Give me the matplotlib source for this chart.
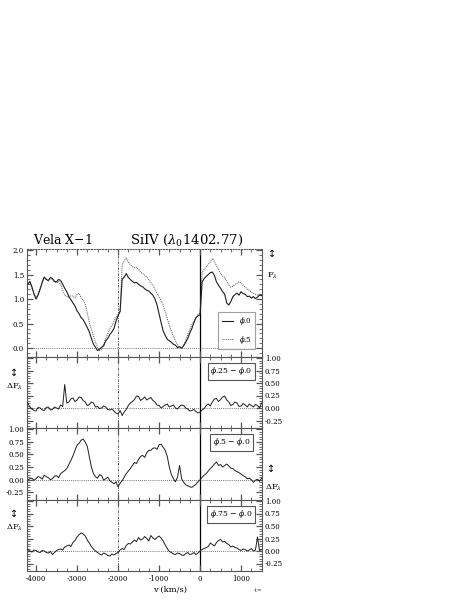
import numpy as np
import matplotlib
matplotlib.use("Agg")
import matplotlib.pyplot as plt
from matplotlib.ticker import MultipleLocator, FixedLocator

plt.rcParams.update({"font.family": "DejaVu Serif", "mathtext.fontset": "dejavuserif"})

# velocity grid (km/s), 50 km/s steps; each row of the lists below covers 500 km/s
vel = np.arange(-4200, 1501, 50)

# normalised flux, phase 0.0 (solid) and phase 0.5 (dotted)
flux_p00 = [1.30, 1.36, 1.25, 1.10, 1.00, 1.08, 1.20, 1.34, 1.45, 1.40,
            1.38, 1.44, 1.42, 1.36, 1.35, 1.40, 1.38, 1.30, 1.22, 1.15,
            1.05, 0.99, 0.92, 0.86, 0.76, 0.70, 0.62, 0.58, 0.50, 0.42,
            0.33, 0.20, 0.08, 0.02, -0.05, -0.02, 0.02, 0.05, 0.15, 0.20,
            0.28, 0.33, 0.40, 0.55, 0.66, 0.75, 1.40, 1.45, 1.52, 1.44,
            1.40, 1.36, 1.33, 1.34, 1.30, 1.27, 1.25, 1.21, 1.18, 1.16,
            1.12, 1.08, 1.00, 0.88, 0.70, 0.52, 0.35, 0.26, 0.18, 0.15,
            0.12, 0.08, 0.06, 0.01, 0.03, 0.00, 0.05, 0.12, 0.20, 0.31,
            0.40, 0.52, 0.62, 0.66, 0.68, 1.35, 1.42, 1.46, 1.50, 1.54,
            1.55, 1.48, 1.35, 1.28, 1.22, 1.15, 1.10, 0.92, 0.88, 0.95,
            1.05, 1.09, 1.12, 1.08, 1.15, 1.11, 1.10, 1.05, 1.06, 1.02,
            1.05, 1.01, 1.04, 1.08, 1.07]
flux_p50 = [1.30, 1.35, 1.22, 1.12, 1.02, 1.10, 1.22, 1.33, 1.44, 1.40,
            1.36, 1.42, 1.40, 1.35, 1.33, 1.36, 1.30, 1.18, 1.08, 1.05,
            1.04, 1.07, 1.06, 1.02, 1.10, 1.12, 1.02, 0.98, 0.90, 0.72,
            0.52, 0.38, 0.25, 0.12, 0.02, -0.05, -0.03, 0.08, 0.20, 0.30,
            0.40, 0.46, 0.55, 0.62, 0.68, 0.74, 1.70, 1.78, 1.84, 1.75,
            1.70, 1.66, 1.64, 1.65, 1.60, 1.55, 1.52, 1.49, 1.45, 1.40,
            1.34, 1.28, 1.20, 1.12, 1.05, 0.96, 0.88, 0.74, 0.60, 0.47,
            0.35, 0.24, 0.15, 0.07, 0.02, 0.00, 0.06, 0.16, 0.28, 0.38,
            0.48, 0.55, 0.62, 0.68, 0.72, 1.55, 1.60, 1.66, 1.70, 1.76,
            1.83, 1.76, 1.68, 1.60, 1.52, 1.47, 1.44, 1.36, 1.28, 1.24,
            1.26, 1.30, 1.32, 1.35, 1.33, 1.28, 1.25, 1.20, 1.18, 1.14,
            1.12, 1.10, 1.08, 1.10, 1.08]

# difference spectra
diff_25 = [0.10, 0.02, -0.02, -0.05, -0.06, 0.01, 0.00, -0.04, -0.05, 0.01,
           0.02, -0.04, -0.03, 0.02, 0.00, -0.02, 0.06, 0.03, 0.47, 0.10,
           0.12, 0.18, 0.20, 0.13, 0.16, 0.22, 0.21, 0.15, 0.12, 0.05,
           0.07, 0.12, 0.10, 0.02, 0.03, -0.01, 0.00, 0.04, 0.02, -0.03,
           -0.04, -0.02, -0.06, -0.10, -0.12, -0.05, -0.15, -0.08, -0.03, 0.05,
           0.10, 0.13, 0.17, 0.24, 0.23, 0.15, 0.18, 0.22, 0.16, 0.19,
           0.21, 0.15, 0.12, 0.06, 0.05, 0.00, 0.03, 0.06, 0.08, 0.02,
           0.04, 0.06, 0.00, -0.02, 0.03, 0.06, 0.05, 0.00, -0.02, -0.06,
           -0.05, -0.03, -0.07, -0.10, -0.08, -0.04, -0.01, 0.05, 0.08, 0.04,
           0.12, 0.18, 0.19, 0.13, 0.17, 0.22, 0.24, 0.16, 0.12, 0.05,
           0.07, 0.12, 0.10, 0.03, 0.04, 0.09, 0.06, 0.02, 0.08, 0.05,
           0.02, 0.07, 0.05, 0.00, 0.10]
diff_50 = [-0.01, 0.02, 0.03, -0.01, 0.02, 0.06, 0.05, 0.01, 0.09, 0.06,
           0.04, 0.00, 0.02, 0.07, 0.08, 0.04, 0.12, 0.15, 0.18, 0.22,
           0.30, 0.38, 0.47, 0.58, 0.68, 0.72, 0.78, 0.80, 0.74, 0.66,
           0.45, 0.25, 0.12, 0.06, 0.03, 0.10, 0.08, -0.01, 0.02, 0.05,
           -0.02, -0.05, -0.08, -0.04, -0.14, -0.07, -0.02, 0.05, 0.12, 0.17,
           0.22, 0.28, 0.34, 0.32, 0.40, 0.46, 0.48, 0.44, 0.53, 0.58,
           0.58, 0.62, 0.63, 0.60, 0.69, 0.70, 0.64, 0.58, 0.46, 0.25,
           0.10, 0.02, -0.04, 0.05, 0.28, 0.02, -0.05, -0.10, -0.12, -0.14,
           -0.15, -0.12, -0.09, -0.04, 0.00, 0.05, 0.09, 0.12, 0.17, 0.22,
           0.26, 0.31, 0.35, 0.28, 0.30, 0.25, 0.28, 0.31, 0.27, 0.23,
           0.22, 0.18, 0.16, 0.14, 0.11, 0.08, 0.06, 0.02, 0.03, 0.00,
           -0.05, -0.01, 0.01, -0.03, 0.03]
diff_75 = [0.03, 0.00, -0.02, 0.02, 0.01, -0.02, -0.03, 0.01, 0.00, -0.03,
           -0.04, -0.01, -0.07, -0.03, 0.01, 0.03, 0.04, 0.02, 0.08, 0.10,
           0.12, 0.09, 0.17, 0.21, 0.28, 0.33, 0.36, 0.34, 0.30, 0.22,
           0.16, 0.09, 0.04, 0.00, -0.03, -0.06, -0.08, -0.04, -0.06, -0.09,
           -0.10, -0.06, -0.08, -0.05, -0.03, 0.02, 0.05, 0.03, 0.11, 0.15,
           0.14, 0.18, 0.22, 0.19, 0.27, 0.22, 0.24, 0.29, 0.25, 0.20,
           0.31, 0.26, 0.23, 0.27, 0.30, 0.26, 0.20, 0.12, 0.05, -0.01,
           -0.03, -0.06, -0.07, -0.04, -0.05, -0.08, -0.09, -0.05, -0.03, -0.07,
           -0.06, -0.03, -0.07, -0.04, 0.00, 0.03, 0.05, 0.07, 0.09, 0.16,
           0.13, 0.10, 0.17, 0.21, 0.23, 0.18, 0.19, 0.15, 0.13, 0.08,
           0.10, 0.07, 0.06, 0.03, 0.01, 0.04, 0.03, 0.00, 0.02, 0.05,
           0.00, 0.02, 0.28, 0.01, 0.03]

diff_labels = [r"$\phi$.25 $-$ $\phi$.0", r"$\phi$.5 $-$ $\phi$.0", r"$\phi$.75 $-$ $\phi$.0"]
diff_ticks = [-0.25, 0.0, 0.25, 0.5, 0.75, 1.0]

W, H = 463, 600
fig = plt.figure(figsize=(W / 100, H / 100), dpi=100)


def box(x0, x1, ytop, ybot):
    return [x0 / W, 1 - ybot / H, (x1 - x0) / W, (ybot - ytop) / H]


ax0 = fig.add_axes(box(27, 262, 249, 357))
ax1 = fig.add_axes(box(27, 262, 357, 428))
ax2 = fig.add_axes(box(27, 262, 428, 500))
ax3 = fig.add_axes(box(27, 262, 500, 571))
axes = [ax0, ax1, ax2, ax3]

LINE = "#1e1e1e"
FRAME = "#555555"

for ax in axes:
    ax.set_xlim(-4220, 1510)
    ax.axvline(-2000, color="#444444", lw=0.6, ls=(0, (3, 1.5, 1, 1.5)), zorder=1)
    ax.axvline(0, color="black", lw=0.9, zorder=1)
    ax.xaxis.set_major_locator(MultipleLocator(1000))
    ax.xaxis.set_minor_locator(MultipleLocator(250))
    ax.tick_params(which="both", direction="in", top=True, bottom=True, left=True, right=True,
                   color=FRAME, labelsize=5, pad=2)
    ax.tick_params(which="major", length=4, width=0.9)
    ax.tick_params(which="minor", length=2, width=0.6)
    ax.tick_params(axis="x", labelbottom=False)
    for s in ax.spines.values():
        s.set_color(FRAME)
        s.set_linewidth(0.8)

# top panel: spectra
ax0.plot(vel, flux_p50, color="#555555", lw=0.7, ls=(0, (1, 1)), zorder=2)
ax0.plot(vel, flux_p00, color=LINE, lw=0.8, zorder=3)
ax0.axhline(0.0, color="#444444", lw=0.6, ls=(0, (1, 1.5)), zorder=1)
ax0.set_ylim(-0.18, 2.02)
ax0.yaxis.set_major_locator(FixedLocator([0.0, 0.5, 1.0, 1.5, 2.0]))
ax0.yaxis.set_minor_locator(MultipleLocator(0.1))
ax0.set_yticklabels(["0.0", "0.5", "1.0", "1.5", "2.0"])
ax0.spines["top"].set_linestyle((0, (1, 1.5)))
h1, = ax0.plot([], [], color=LINE, lw=0.8)
h2, = ax0.plot([], [], color="#555555", lw=0.7, ls=(0, (1, 1)))
leg = ax0.legend([h1, h2], [r"$\phi$.0", r"$\phi$.5"], loc="lower right",
                 bbox_to_anchor=(0.985, 0.04), fontsize=5, handlelength=1.6,
                 frameon=True, fancybox=False, borderpad=0.5, labelspacing=0.9)
leg.get_frame().set_edgecolor("#888888")
leg.get_frame().set_linewidth(0.8)

# difference panels
for ax, d, lab, side in zip([ax1, ax2, ax3], [diff_25, diff_50, diff_75], diff_labels,
                            ["right", "left", "right"]):
    ax.plot(vel, d, color=LINE, lw=0.7, zorder=3)
    ax.axhline(0.0, color="#444444", lw=0.6, ls=(0, (1, 1.5)), zorder=1)
    ax.set_ylim(-0.4, 1.02)
    ax.yaxis.set_major_locator(FixedLocator(diff_ticks))
    ax.yaxis.set_minor_locator(MultipleLocator(0.05))
    ax.set_yticklabels(["%.2f" % t for t in diff_ticks])
    ax.tick_params(axis="y", labelleft=(side == "left"), labelright=(side == "right"))
    ax.text(0.87, 0.80, lab, transform=ax.transAxes, ha="center", va="center", fontsize=5.5,
            bbox=dict(boxstyle="square,pad=0.35", fc="white", ec="#555555", lw=0.8))

ax3.tick_params(axis="x", labelbottom=True, labelsize=5, pad=3)
ax3.set_xticks([-4000, -3000, -2000, -1000, 0, 1000])
ax3.set_xticklabels(["-4000", "-3000", "-2000", "-1000", "0", "1000"])

# titles and axis labels
fig.text(33 / W, 1 - 240 / H, "Vela X$-$1", fontsize=9, ha="left", va="center")
fig.text(130 / W, 1 - 240 / H, r"SiIV ($\lambda_0$1402.77)", fontsize=9.5, ha="left", va="center")
fig.text(170 / W, 1 - 590 / H, "v (km/s)", fontsize=6, ha="center", va="center")
fig.text(258 / W, 1 - 590 / H, "-t=", fontsize=4, ha="center", va="center", color="#444444")

fig.text(272 / W, 1 - 254 / H, "\u2195", fontsize=7, ha="center", va="center",
         family=["DejaVu Sans"])
fig.text(273 / W, 1 - 276 / H, r"F$_\lambda$", fontsize=6, ha="center", va="center")
fig.text(271 / W, 1 - 469 / H, "\u2195", fontsize=7, ha="center", va="center",
         family=["DejaVu Sans"])
fig.text(274 / W, 1 - 488 / H, r"$\Delta$F$_\lambda$", fontsize=6, ha="center", va="center")
for yy in (373, 514):
    fig.text(14 / W, 1 - yy / H, "\u2195", fontsize=7, ha="center", va="center",
             family=["DejaVu Sans"])
    fig.text(15 / W, 1 - (yy + 14) / H, r"$\Delta$F$_\lambda$", fontsize=6, ha="center",
             va="center")

fig.savefig("out.png", dpi=100)
